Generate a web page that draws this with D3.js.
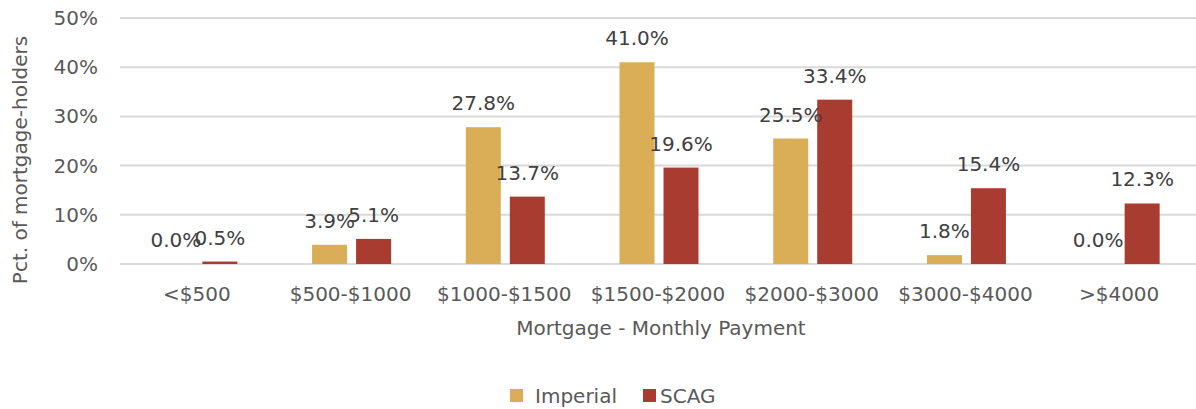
<!DOCTYPE html>
<html>
<head>
<meta charset="utf-8">
<script src="https://cdn.jsdelivr.net/npm/d3@7"></script>
<style>
  body { margin: 0; background: #fff; }
  text { font-family: "DejaVu Sans", sans-serif; fill: #595959; }
</style>
</head>
<body>
<div id="chart"></div>
<script>
var categories = ["<$500", "$500-$1000", "$1000-$1500", "$1500-$2000", "$2000-$3000", "$3000-$4000", ">$4000"];
var seriesNames = ["Imperial", "SCAG"];
var imperialValues = [0.0, 3.9, 27.8, 41.0, 25.5, 1.8, 0.0];
var scagValues = [0.5, 5.1, 13.7, 19.6, 33.4, 15.4, 12.3];
var yTicks = [0, 10, 20, 30, 40, 50];
var colors = ["#D9AE56", "#A93C30"];

var width = 1196, height = 409;
var margin = {top: 18, right: 0, bottom: 145, left: 120};
var graphWidth = width - margin.left - margin.right;
var graphHeight = height - margin.top - margin.bottom;
var fontSize = "20px";

var svg = d3.select("#chart")
  .append("svg")
  .attr("width", width)
  .attr("height", height)
  .append("g")
  .attr("transform", "translate(" + margin.left + "," + margin.top + ")");

var x0 = d3.scaleBand()
  .domain(categories)
  .range([0, graphWidth]);

// bars inside a category: 35px wide, 9px apart
var x1 = d3.scaleBand()
  .domain(seriesNames)
  .range([-38.5, 40.5])
  .paddingInner(9 / 44);

var y = d3.scaleLinear()
  .domain([0, 50])
  .range([graphHeight, 0]);

// gridlines
svg.selectAll(".grid")
  .data(yTicks)
  .enter()
  .append("line")
  .attr("class", "grid")
  .attr("x1", 0)
  .attr("x2", graphWidth)
  .attr("y1", d => y(d))
  .attr("y2", d => y(d))
  .style("stroke", "#d9d9d9")
  .style("stroke-width", 2);

// y tick labels
svg.selectAll(".ytick")
  .data(yTicks)
  .enter()
  .append("text")
  .attr("class", "ytick")
  .attr("x", -22)
  .attr("y", d => y(d))
  .attr("dy", "0.35em")
  .style("text-anchor", "end")
  .style("font-size", fontSize)
  .text(d => d + "%");

// x tick labels
svg.selectAll(".xtick")
  .data(categories)
  .enter()
  .append("text")
  .attr("class", "xtick")
  .attr("x", d => x0(d) + x0.bandwidth() / 2)
  .attr("y", graphHeight + 37)
  .style("text-anchor", "middle")
  .style("font-size", fontSize)
  .text(d => d);

var rows = categories.map(function(c, i) {
  return [
    {cat: c, series: seriesNames[0], value: imperialValues[i]},
    {cat: c, series: seriesNames[1], value: scagValues[i]}
  ];
});

var groups = svg.selectAll(".group")
  .data(rows)
  .enter()
  .append("g")
  .attr("class", "group")
  .attr("transform", d => "translate(" + (x0(d[0].cat) + x0.bandwidth() / 2) + ",0)");

groups.selectAll("rect")
  .data(d => d)
  .enter()
  .append("rect")
  .attr("x", d => x1(d.series))
  .attr("width", x1.bandwidth())
  .attr("y", d => y(d.value))
  .attr("height", d => graphHeight - y(d.value))
  .style("fill", (d, i) => colors[i]);

groups.selectAll(".label")
  .data(d => d)
  .enter()
  .append("text")
  .attr("class", "label")
  .attr("x", d => x1(d.series) + x1.bandwidth() / 2)
  .attr("y", d => y(d.value) - 17)
  .style("text-anchor", "middle")
  .style("font-size", fontSize)
  .style("fill", "#404040")
  .text(d => d.value.toFixed(1) + "%");

// y axis title
svg.append("text")
  .attr("transform", "rotate(-90)")
  .attr("x", -(160 - margin.top))
  .attr("y", -margin.left + 27)
  .style("text-anchor", "middle")
  .style("font-size", fontSize)
  .text("Pct. of mortgage-holders");

// x axis title
svg.append("text")
  .attr("x", 661 - margin.left)
  .attr("y", graphHeight + 71)
  .style("text-anchor", "middle")
  .style("font-size", fontSize)
  .text("Mortgage - Monthly Payment");

// legend
var legendX = [510, 643];
var legendItems = svg.selectAll(".legend")
  .data(seriesNames)
  .enter()
  .append("g")
  .attr("class", "legend")
  .attr("transform", (d, i) => "translate(" + (legendX[i] - margin.left) + "," + (403 - margin.top) + ")");

legendItems.append("rect")
  .attr("x", 0)
  .attr("y", -14)
  .attr("width", 13)
  .attr("height", 13)
  .style("fill", (d, i) => colors[i]);

legendItems.append("text")
  .attr("x", (d, i) => i === 0 ? 25 : 17)
  .attr("y", 0)
  .style("font-size", fontSize)
  .text(d => d);
</script>
</body>
</html>
